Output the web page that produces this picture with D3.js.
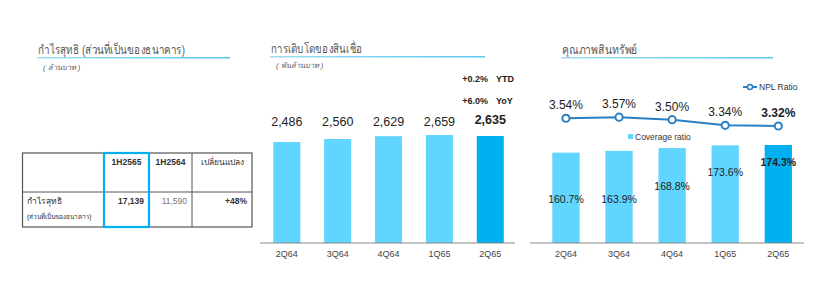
<!DOCTYPE html>
<html><head><meta charset="utf-8">
<script src="https://cdn.jsdelivr.net/npm/d3@7"></script>
<style>
body{margin:0;background:#fff;}
svg{display:block;font-family:"Liberation Sans",Arial,"Noto Sans",sans-serif;}
</style></head>
<body><svg id="c" width="822" height="290"></svg>
<script>
// ---------- data ----------
const titles = ["กำไรสุทธิ (ส่วนที่เป็นของธนาคาร)", "การเติบโตของสินเชื่อ", "คุณภาพสินทรัพย์"];
const units = ["( ล้านบาท )", "( พันล้านบาท )"];
const tableHeaders = ["", "1H2565", "1H2564", "เปลี่ยนแปลง"];
const tableRowLabel = ["กำไรสุทธิ", "(ส่วนที่เป็นของธนาคาร)"];
const tableValues = ["17,139", "11,590", "+48%"];
const quarters = ["2Q64", "3Q64", "4Q64", "1Q65", "2Q65"];
const loans = [2486, 2560, 2629, 2659, 2635];
const loanGrowth = [["+0.2%", "YTD"], ["+6.0%", "YoY"]];
const nplRatio = [3.54, 3.57, 3.50, 3.34, 3.32];
const coverageRatio = [160.7, 163.9, 168.8, 173.6, 174.3];
const legendNames = ["NPL Ratio", "Coverage ratio"];

// ---------- layout ----------
const LIGHT = "#5fd5ff", DARK = "#00b0f0", LINE = "#2a80c4", GRAY = "#595959";
const covLabelDepth = [46, 48, 38, 27, 17]; // label placement below bar top
const svg = d3.select("#c");

function title(x, y, w, tw, t) {
  svg.append("text").attr("x", x).attr("y", y).attr("font-size", 12.5).attr("fill", GRAY)
    .attr("textLength", tw).attr("lengthAdjust", "spacingAndGlyphs").text(t);
  const g = svg.append("defs").append("linearGradient").attr("id", "ug" + x);
  g.append("stop").attr("offset", "0%").attr("stop-color", "#9fdcf2");
  g.append("stop").attr("offset", "100%").attr("stop-color", "#5cc8ee");
  svg.append("rect").attr("x", x - 1).attr("y", y + 3).attr("width", w).attr("height", 1.5).attr("fill", `url(#ug${x})`);
}
title(38, 54, 193, 147, titles[0]);
title(271, 53, 215, 91, titles[1]);
title(562, 54, 212, 75, titles[2]);
svg.append("text").attr("x", 43).attr("y", 70).attr("font-size", 7.5).attr("font-style", "italic").attr("fill", GRAY).text(units[0]);
svg.append("text").attr("x", 276).attr("y", 68).attr("font-size", 7.5).attr("font-style", "italic").attr("fill", GRAY).text(units[1]);

// ---------- table ----------
const colX = [22.5, 104, 149, 192, 252];
const rowY = [153, 192, 227];
const tg = svg.append("g");
tg.append("rect").attr("x", colX[0]).attr("y", rowY[0]).attr("width", colX[4] - colX[0]).attr("height", rowY[2] - rowY[0])
  .attr("fill", "none").attr("stroke", "#555").attr("stroke-width", 1.2);
tg.append("line").attr("x1", colX[0]).attr("x2", colX[4]).attr("y1", rowY[1]).attr("y2", rowY[1]).attr("stroke", "#555");
tg.append("line").attr("x1", colX[3]).attr("x2", colX[3]).attr("y1", rowY[0]).attr("y2", rowY[2]).attr("stroke", "#555");
tg.append("rect").attr("x", colX[1]).attr("y", rowY[0]).attr("width", colX[2] - colX[1]).attr("height", rowY[2] - rowY[0])
  .attr("fill", "none").attr("stroke", DARK).attr("stroke-width", 2.2);
tableHeaders.forEach((h, i) => {
  if (!h) return;
  tg.append("text").attr("x", (colX[i] + colX[i + 1]) / 2).attr("y", 165).attr("text-anchor", "middle")
    .attr("font-size", 8.5).attr("font-weight", i < 3 ? "bold" : "normal").attr("fill", "#333").text(h);
});
tg.append("text").attr("x", 27).attr("y", 204).attr("font-size", 8.5).attr("fill", "#333").text(tableRowLabel[0]);
tg.append("text").attr("x", 27).attr("y", 219).attr("font-size", 6.5).attr("fill", "#333").text(tableRowLabel[1]);
tableValues.forEach((v, i) => {
  tg.append("text").attr("x", colX[i + 2] - 5).attr("y", 204).attr("text-anchor", "end").attr("font-size", 8.5)
    .attr("font-weight", i === 1 ? "normal" : "bold").attr("fill", i === 1 ? "#777" : "#333").text(v);
});

// ---------- loans chart ----------
const x2 = d3.scaleBand().domain(quarters).range([247.9, 529.2]).paddingInner(0.469).paddingOuter(0.5);
const y2 = d3.scaleLinear().domain([0, 2659]).range([243, 135]);
const g2 = svg.append("g");
g2.selectAll("rect").data(loans).join("rect")
  .attr("x", (d, i) => x2(quarters[i])).attr("width", x2.bandwidth())
  .attr("y", d => y2(d)).attr("height", d => y2(0) - y2(d))
  .attr("fill", (d, i) => i === loans.length - 1 ? DARK : LIGHT);
g2.selectAll("text.v").data(loans).join("text").attr("class", "v")
  .attr("x", (d, i) => x2(quarters[i]) + x2.bandwidth() / 2).attr("y", (d, i) => i === 4 ? 124 : 126)
  .attr("text-anchor", "middle").attr("font-size", 12.5).attr("fill", "#222")
  .attr("font-weight", (d, i) => i === 4 ? "bold" : "normal").text(d => d3.format(",")(d));
const ax2 = g2.append("g").attr("transform", "translate(0,243)")
  .call(d3.axisBottom(x2).tickSize(0).tickPadding(8));
ax2.select(".domain").attr("d", "M260,0H515").attr("stroke", "#888");
ax2.selectAll("text").attr("font-size", 9).attr("fill", "#444").attr("font-family", "inherit");
loanGrowth.forEach((r, i) => {
  g2.append("text").attr("x", 488).attr("y", 82 + i * 22).attr("text-anchor", "end").attr("font-size", 9)
    .attr("font-weight", "bold").attr("fill", "#222").text(r[0]);
  g2.append("text").attr("x", 496).attr("y", 82 + i * 22).attr("font-size", 9).attr("font-weight", "bold")
    .attr("fill", "#222").text(r[1]);
});

// ---------- asset quality chart ----------
const x3 = d3.scaleBand().domain(quarters).range([525.75, 818.5]).paddingInner(0.486).paddingOuter(0.5);
const y3 = d3.scaleLinear().domain([0, 174.3]).range([243, 145]);
const yN = d3.scaleLinear().domain([3.32, 3.57]).range([126, 117.2]);
const g3 = svg.append("g");
const cx3 = q => x3(q) + x3.bandwidth() / 2;
g3.selectAll("rect").data(coverageRatio).join("rect")
  .attr("x", (d, i) => x3(quarters[i])).attr("width", x3.bandwidth())
  .attr("y", d => y3(d)).attr("height", d => y3(0) - y3(d))
  .attr("fill", (d, i) => i === coverageRatio.length - 1 ? DARK : LIGHT);
g3.selectAll("text.c").data(coverageRatio).join("text").attr("class", "c")
  .attr("x", (d, i) => cx3(quarters[i])).attr("y", (d, i) => y3(d) + covLabelDepth[i] + 4)
  .attr("text-anchor", "middle").attr("font-size", 10.5).attr("fill", "#222")
  .attr("font-weight", (d, i) => i === 4 ? "bold" : "normal").text(d => d.toFixed(1) + "%");
const ax3 = g3.append("g").attr("transform", "translate(0,243)")
  .call(d3.axisBottom(x3).tickSize(0).tickPadding(8));
ax3.select(".domain").attr("d", "M530,0H804").attr("stroke", "#888");
ax3.selectAll("text").attr("font-size", 9).attr("fill", "#444").attr("font-family", "inherit");

const line = d3.line().x((d, i) => cx3(quarters[i])).y(d => yN(d));
g3.append("path").datum(nplRatio).attr("d", line).attr("fill", "none").attr("stroke", LINE).attr("stroke-width", 2);
g3.selectAll("circle").data(nplRatio).join("circle")
  .attr("cx", (d, i) => cx3(quarters[i])).attr("cy", d => yN(d)).attr("r", 3.6)
  .attr("fill", "#fff").attr("stroke", LINE).attr("stroke-width", 2);
g3.selectAll("text.n").data(nplRatio).join("text").attr("class", "n")
  .attr("x", (d, i) => cx3(quarters[i])).attr("y", d => yN(d) - 9)
  .attr("text-anchor", "middle").attr("font-size", 12).attr("fill", "#222")
  .attr("font-weight", (d, i) => i === 4 ? "bold" : "normal").text(d => d.toFixed(2) + "%");

// legends
g3.append("line").attr("x1", 743).attr("x2", 757).attr("y1", 87).attr("y2", 87).attr("stroke", LINE).attr("stroke-width", 2);
g3.append("circle").attr("cx", 750).attr("cy", 87).attr("r", 2.5).attr("fill", "#fff").attr("stroke", LINE).attr("stroke-width", 1.5);
g3.append("text").attr("x", 759).attr("y", 90).attr("font-size", 8.5).attr("fill", "#333").text(legendNames[0]);
g3.append("rect").attr("x", 628).attr("y", 134).attr("width", 5).attr("height", 5).attr("fill", LIGHT);
g3.append("text").attr("x", 635).attr("y", 139.5).attr("font-size", 8.5).attr("fill", "#333").text(legendNames[1]);
</script></body></html>
